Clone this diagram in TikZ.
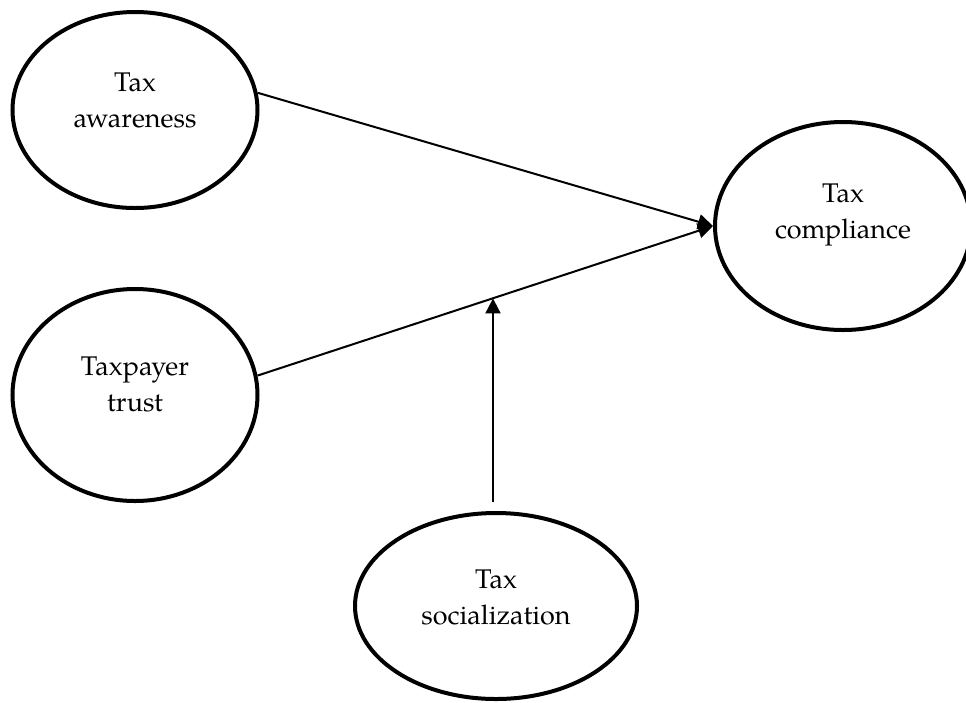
\documentclass[tikz,border=0pt]{standalone}
\usepackage{fontspec}
\setmainfont{TeX Gyre Pagella}
\usetikzlibrary{arrows.meta,calc,shapes.geometric}
\tikzset{
  oval/.style={ellipse, draw=black, line width=4pt, fill=white, inner sep=0pt},
  txt/.style={align=center, font=\fontsize{27}{36}\selectfont, inner sep=0pt},
  conn/.style={line width=2pt, -{Triangle[length=15pt,width=15pt]}},
  plain/.style={line width=2pt}
}
\begin{document}
\begin{tikzpicture}[x=1pt,y=-1pt]
\useasboundingbox (0,0) rectangle (966,702);
\node[oval, minimum width=245pt, minimum height=196pt] (aw) at (135,110) {};
\node[txt] (awt) at (135,100) {Tax\\awareness};
\node[oval, minimum width=245pt, minimum height=212pt] (tr) at (135,395) {};
\node[txt] (trt) at (135,384) {Taxpayer\\trust};
\node[oval, minimum width=256pt, minimum height=208pt] (cp) at (843,226) {};
\node[txt] (cpt) at (843,215) {Tax\\compliance};
\node[oval, minimum width=282pt, minimum height=186pt] (so) at (496,606) {};
\node[txt] (sot) at (496,597) {Tax\\socialization};
\coordinate (tip) at (cp.west);
\draw[conn] (aw.8) -- (tip);
\draw[conn] (tr.9) -- (tip);
\coordinate (mid) at ($(tr.9)!0.516!(tip)$);
\coordinate (sb) at (493,502);
\draw[conn] (sb) -- (sb |- mid);
\end{tikzpicture}
\end{document}
